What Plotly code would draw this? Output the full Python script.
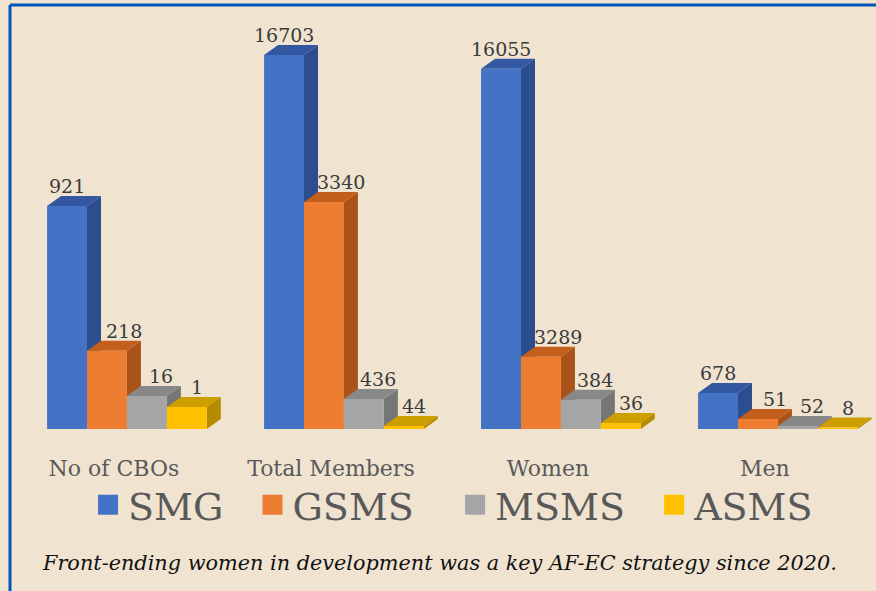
import plotly.graph_objects as go

# ---- data ----
categories = ["No of CBOs", "Total Members", "Women", "Men"]
series = ["SMG", "GSMS", "MSMS", "ASMS"]
# value labels printed on the bars
values = {
    "SMG":  [921, 16703, 16055, 678],
    "GSMS": [218, 3340, 3289, 51],
    "MSMS": [16, 436, 384, 52],
    "ASMS": [1, 44, 36, 8],
}
# drawn bar heights as they appear in the picture (tallest bar = 100)
drawn_height = {
    "SMG":  [59.6, 100.0, 96.3, 9.6],
    "GSMS": [20.9, 60.7, 19.3, 2.7],
    "MSMS": [8.8, 8.0, 7.8, 0.8],
    "ASMS": [5.9, 0.8, 1.6, 0.4],
}
caption = "Front-ending women in development was a key AF-EC strategy since 2020."

# ---- styles ----
front_col = {"SMG": "#4472C4", "GSMS": "#ED7D31", "MSMS": "#A5A5A5", "ASMS": "#FFC000"}
top_col = {"SMG": "#3357A0", "GSMS": "#C45E1C", "MSMS": "#888888", "ASMS": "#CC9E00"}
side_col = {"SMG": "#2C4D8E", "GSMS": "#A9531A", "MSMS": "#767676", "ASMS": "#B58B00"}
legend_pad = {"SMG": 2, "GSMS": 3, "MSMS": 2, "ASMS": 0}
BG = "#F0E4D1"
SERIF = "DejaVu Serif"

W = 0.184      # bar width (category units)
DX = 0.0645    # 3-D depth, horizontal (category units)
DY = 2.67      # 3-D depth, vertical (height units)
YMAX = 114.7

fig = go.Figure()

for j, s in enumerate(series):
    fx, fy, tx, ty, sx, sy = [], [], [], [], [], []
    for i, h in enumerate(drawn_height[s]):
        x0 = i + (j - 2) * W
        x1 = x0 + W
        fx += [x0, x1, x1, x0, x0, None]
        fy += [0, 0, h, h, 0, None]
        tx += [x0, x1, x1 + DX, x0 + DX, x0, None]
        ty += [h, h, h + DY, h + DY, h, None]
        sx += [x1, x1 + DX, x1 + DX, x1, x1, None]
        sy += [0, DY, h + DY, h, 0, None]
    for xs, ys, col in ((sx, sy, side_col[s]), (tx, ty, top_col[s]), (fx, fy, front_col[s])):
        fig.add_trace(go.Scatter(x=xs, y=ys, mode="lines", fill="toself", fillcolor=col,
                                 line=dict(width=0, color=col), showlegend=False,
                                 hoverinfo="skip"))

# legend entries
for s in series:
    fig.add_trace(go.Scatter(x=[None], y=[None], mode="markers",
                             name=s + "\u00a0" * legend_pad[s],
                             marker=dict(symbol="square", size=16, color=front_col[s],
                                         line=dict(width=4, color=front_col[s]))))

# value labels
label_shift = {"SMG": 0.0, "GSMS": 0.08, "MSMS": 0.065, "ASMS": 0.045}
for j, s in enumerate(series):
    for i, (v, h) in enumerate(zip(values[s], drawn_height[s])):
        xc = i + (j - 1.5) * W + label_shift[s]
        fig.add_annotation(x=xc, y=h + DY, xref="x", yref="y", text=str(v),
                           showarrow=False, yanchor="bottom", yshift=-3,
                           font=dict(family=SERIF, size=19, color="#3A3A3A"))

fig.add_annotation(x=0.502, y=0.047, xref="paper", yref="paper", showarrow=False,
                   text="<i>" + caption + "</i>", xanchor="center", yanchor="middle",
                   font=dict(family=SERIF, size=20.8, color="#111111"))

# frame lines (blue border at top and left)
fig.add_shape(type="line", xref="paper", yref="paper", x0=0.0114, x1=1, y0=0.9916, y1=0.9916,
              line=dict(color="#0055B8", width=3))
fig.add_shape(type="line", xref="paper", yref="paper", x0=0.0114, x1=0.0114, y0=0, y1=0.9916,
              line=dict(color="#0055B8", width=3))

fig.update_layout(
    width=876, height=591,
    margin=dict(l=0, r=0, t=0, b=0),
    paper_bgcolor=BG, plot_bgcolor=BG,
    showlegend=True,
    legend=dict(orientation="h", x=0.1005, xanchor="left", y=0.1455, yanchor="middle",
                font=dict(family=SERIF, size=38, color="#595959"),
                bgcolor="rgba(0,0,0,0)"),
    xaxis=dict(range=[-0.585, 3.452], domain=[0, 1], showgrid=False, zeroline=False,
               showline=False, ticks="", tickvals=[i - 0.06 for i in range(len(categories))],
               ticktext=categories, ticklabelstandoff=24,
               tickfont=dict(family=SERIF, size=22, color="#595959"), fixedrange=True),
    yaxis=dict(range=[0, YMAX], domain=[0.2741, 1], visible=False, fixedrange=True),
)

fig.write_html("out.html", config={"displayModeBar": False},
               post_script="document.body.style.margin='0';document.body.style.overflow='hidden';")
